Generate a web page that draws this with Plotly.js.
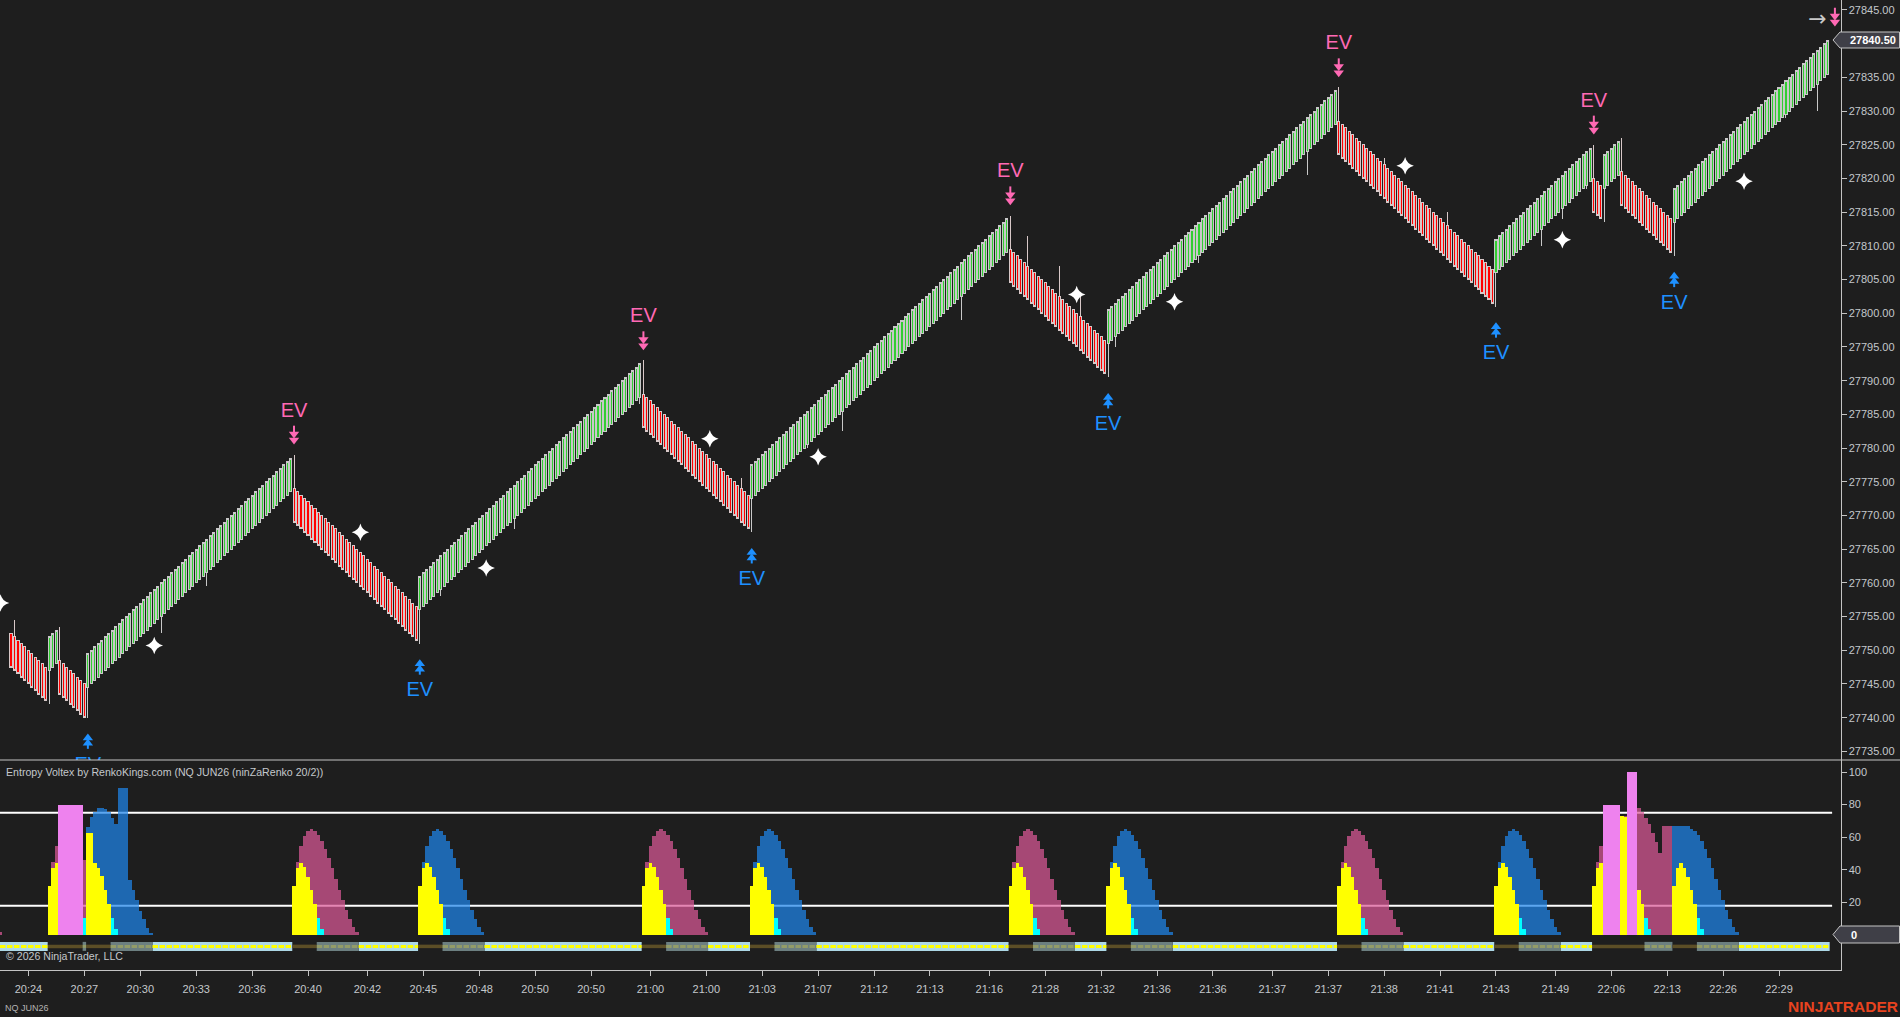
<!DOCTYPE html>
<html>
<head>
<meta charset="utf-8">
<script src="https://cdn.plot.ly/plotly-3.0.1.min.js"></script>
<style>
  html, body { margin: 0; padding: 0; background: #1e1e1e; overflow: hidden; }
  .boxlayer path { shape-rendering: crispEdges !important; }
</style>
</head>
<body>
<div id="chart"></div>
<script>
// renko bars, one value per bar, leg by leg
const closes = [
  27747.5,27747,27746.5,27746,27745.5,27745,27744.5,27744,27743.5,27743,27742.5,
  27752,27752.5,27753,
  27743.5,27743,27742.5,27742,27741.5,27741,27740.5,27740,
  27749.5,27750,27750.5,27751,27751.5,27752,27752.5,27753,27753.5,27754,27754.5,27755,27755.5,27756,27756.5,27757,27757.5,27758,27758.5,27759,27759.5,27760,27760.5,27761,27761.5,27762,27762.5,27763,27763.5,27764,27764.5,27765,27765.5,27766,27766.5,27767,27767.5,27768,27768.5,27769,27769.5,27770,27770.5,27771,27771.5,27772,27772.5,27773,27773.5,27774,27774.5,27775,27775.5,27776,27776.5,27777,27777.5,27778,27778.5,
  27769,27768.5,27768,27767.5,27767,27766.5,27766,27765.5,27765,27764.5,27764,27763.5,27763,27762.5,27762,27761.5,27761,27760.5,27760,27759.5,27759,27758.5,27758,27757.5,27757,27756.5,27756,27755.5,27755,27754.5,27754,27753.5,27753,27752.5,27752,27751.5,
  27761,27761.5,27762,27762.5,27763,27763.5,27764,27764.5,27765,27765.5,27766,27766.5,27767,27767.5,27768,27768.5,27769,27769.5,27770,27770.5,27771,27771.5,27772,27772.5,27773,27773.5,27774,27774.5,27775,27775.5,27776,27776.5,27777,27777.5,27778,27778.5,27779,27779.5,27780,27780.5,27781,27781.5,27782,27782.5,27783,27783.5,27784,27784.5,27785,27785.5,27786,27786.5,27787,27787.5,27788,27788.5,27789,27789.5,27790,27790.5,27791,27791.5,27792,27792.5,
  27783,27782.5,27782,27781.5,27781,27780.5,27780,27779.5,27779,27778.5,27778,27777.5,27777,27776.5,27776,27775.5,27775,27774.5,27774,27773.5,27773,27772.5,27772,27771.5,27771,27770.5,27770,27769.5,27769,27768.5,27768,
  27777.5,27778,27778.5,27779,27779.5,27780,27780.5,27781,27781.5,27782,27782.5,27783,27783.5,27784,27784.5,27785,27785.5,27786,27786.5,27787,27787.5,27788,27788.5,27789,27789.5,27790,27790.5,27791,27791.5,27792,27792.5,27793,27793.5,27794,27794.5,27795,27795.5,27796,27796.5,27797,27797.5,27798,27798.5,27799,27799.5,27800,27800.5,27801,27801.5,27802,27802.5,27803,27803.5,27804,27804.5,27805,27805.5,27806,27806.5,27807,27807.5,27808,27808.5,27809,27809.5,27810,27810.5,27811,27811.5,27812,27812.5,27813,27813.5,27814,
  27804.5,27804,27803.5,27803,27802.5,27802,27801.5,27801,27800.5,27800,27799.5,27799,27798.5,27798,27797.5,27797,27796.5,27796,27795.5,27795,27794.5,27794,27793.5,27793,27792.5,27792,27791.5,27791,
  27800.5,27801,27801.5,27802,27802.5,27803,27803.5,27804,27804.5,27805,27805.5,27806,27806.5,27807,27807.5,27808,27808.5,27809,27809.5,27810,27810.5,27811,27811.5,27812,27812.5,27813,27813.5,27814,27814.5,27815,27815.5,27816,27816.5,27817,27817.5,27818,27818.5,27819,27819.5,27820,27820.5,27821,27821.5,27822,27822.5,27823,27823.5,27824,27824.5,27825,27825.5,27826,27826.5,27827,27827.5,27828,27828.5,27829,27829.5,27830,27830.5,27831,27831.5,27832,27832.5,27833,
  27823.5,27823,27822.5,27822,27821.5,27821,27820.5,27820,27819.5,27819,27818.5,27818,27817.5,27817,27816.5,27816,27815.5,27815,27814.5,27814,27813.5,27813,27812.5,27812,27811.5,27811,27810.5,27810,27809.5,27809,27808.5,27808,27807.5,27807,27806.5,27806,27805.5,27805,27804.5,27804,27803.5,27803,27802.5,27802,27801.5,
  27811,27811.5,27812,27812.5,27813,27813.5,27814,27814.5,27815,27815.5,27816,27816.5,27817,27817.5,27818,27818.5,27819,27819.5,27820,27820.5,27821,27821.5,27822,27822.5,27823,27823.5,27824,27824.5,
  27815,27814.5,27814,
  27823.5,27824,27824.5,27825,27825.5,
  27816,27815.5,27815,27814.5,27814,27813.5,27813,27812.5,27812,27811.5,27811,27810.5,27810,27809.5,27809,
  27818.5,27819,27819.5,27820,27820.5,27821,27821.5,27822,27822.5,27823,27823.5,27824,27824.5,27825,27825.5,27826,27826.5,27827,27827.5,27828,27828.5,27829,27829.5,27830,27830.5,27831,27831.5,27832,27832.5,27833,27833.5,27834,27834.5,27835,27835.5,27836,27836.5,27837,27837.5,27838,27838.5,27839,27839.5,27840,27840.5
]

const opens = [
  27752.5,27752,27751.5,27751,27750.5,27750,27749.5,27749,27748.5,27748,27747.5,
  27747,27747.5,27748,
  27748.5,27748,27747.5,27747,27746.5,27746,27745.5,27745,
  27744.5,27745,27745.5,27746,27746.5,27747,27747.5,27748,27748.5,27749,27749.5,27750,27750.5,27751,27751.5,27752,27752.5,27753,27753.5,27754,27754.5,27755,27755.5,27756,27756.5,27757,27757.5,27758,27758.5,27759,27759.5,27760,27760.5,27761,27761.5,27762,27762.5,27763,27763.5,27764,27764.5,27765,27765.5,27766,27766.5,27767,27767.5,27768,27768.5,27769,27769.5,27770,27770.5,27771,27771.5,27772,27772.5,27773,27773.5,
  27774,27773.5,27773,27772.5,27772,27771.5,27771,27770.5,27770,27769.5,27769,27768.5,27768,27767.5,27767,27766.5,27766,27765.5,27765,27764.5,27764,27763.5,27763,27762.5,27762,27761.5,27761,27760.5,27760,27759.5,27759,27758.5,27758,27757.5,27757,27756.5,
  27756,27756.5,27757,27757.5,27758,27758.5,27759,27759.5,27760,27760.5,27761,27761.5,27762,27762.5,27763,27763.5,27764,27764.5,27765,27765.5,27766,27766.5,27767,27767.5,27768,27768.5,27769,27769.5,27770,27770.5,27771,27771.5,27772,27772.5,27773,27773.5,27774,27774.5,27775,27775.5,27776,27776.5,27777,27777.5,27778,27778.5,27779,27779.5,27780,27780.5,27781,27781.5,27782,27782.5,27783,27783.5,27784,27784.5,27785,27785.5,27786,27786.5,27787,27787.5,
  27788,27787.5,27787,27786.5,27786,27785.5,27785,27784.5,27784,27783.5,27783,27782.5,27782,27781.5,27781,27780.5,27780,27779.5,27779,27778.5,27778,27777.5,27777,27776.5,27776,27775.5,27775,27774.5,27774,27773.5,27773,
  27772.5,27773,27773.5,27774,27774.5,27775,27775.5,27776,27776.5,27777,27777.5,27778,27778.5,27779,27779.5,27780,27780.5,27781,27781.5,27782,27782.5,27783,27783.5,27784,27784.5,27785,27785.5,27786,27786.5,27787,27787.5,27788,27788.5,27789,27789.5,27790,27790.5,27791,27791.5,27792,27792.5,27793,27793.5,27794,27794.5,27795,27795.5,27796,27796.5,27797,27797.5,27798,27798.5,27799,27799.5,27800,27800.5,27801,27801.5,27802,27802.5,27803,27803.5,27804,27804.5,27805,27805.5,27806,27806.5,27807,27807.5,27808,27808.5,27809,
  27809.5,27809,27808.5,27808,27807.5,27807,27806.5,27806,27805.5,27805,27804.5,27804,27803.5,27803,27802.5,27802,27801.5,27801,27800.5,27800,27799.5,27799,27798.5,27798,27797.5,27797,27796.5,27796,
  27795.5,27796,27796.5,27797,27797.5,27798,27798.5,27799,27799.5,27800,27800.5,27801,27801.5,27802,27802.5,27803,27803.5,27804,27804.5,27805,27805.5,27806,27806.5,27807,27807.5,27808,27808.5,27809,27809.5,27810,27810.5,27811,27811.5,27812,27812.5,27813,27813.5,27814,27814.5,27815,27815.5,27816,27816.5,27817,27817.5,27818,27818.5,27819,27819.5,27820,27820.5,27821,27821.5,27822,27822.5,27823,27823.5,27824,27824.5,27825,27825.5,27826,27826.5,27827,27827.5,27828,
  27828.5,27828,27827.5,27827,27826.5,27826,27825.5,27825,27824.5,27824,27823.5,27823,27822.5,27822,27821.5,27821,27820.5,27820,27819.5,27819,27818.5,27818,27817.5,27817,27816.5,27816,27815.5,27815,27814.5,27814,27813.5,27813,27812.5,27812,27811.5,27811,27810.5,27810,27809.5,27809,27808.5,27808,27807.5,27807,27806.5,
  27806,27806.5,27807,27807.5,27808,27808.5,27809,27809.5,27810,27810.5,27811,27811.5,27812,27812.5,27813,27813.5,27814,27814.5,27815,27815.5,27816,27816.5,27817,27817.5,27818,27818.5,27819,27819.5,
  27820,27819.5,27819,
  27818.5,27819,27819.5,27820,27820.5,
  27821,27820.5,27820,27819.5,27819,27818.5,27818,27817.5,27817,27816.5,27816,27815.5,27815,27814.5,27814,
  27813.5,27814,27814.5,27815,27815.5,27816,27816.5,27817,27817.5,27818,27818.5,27819,27819.5,27820,27820.5,27821,27821.5,27822,27822.5,27823,27823.5,27824,27824.5,27825,27825.5,27826,27826.5,27827,27827.5,27828,27828.5,27829,27829.5,27830,27830.5,27831,27831.5,27832,27832.5,27833,27833.5,27834,27834.5,27835,27835.5
]

// bars that stick out past their body
const wickHighBars = [1, 14, 81, 181, 209, 286, 291, 300, 306, 380, 393, 411, 453, 461]
const wickHighs = [27754.5, 27753.5, 27779, 27793, 27775.5, 27814.5, 27811.5, 27807, 27802.5, 27833.5, 27823, 27815, 27825, 27826]
const wickLowBars = [11, 22, 43, 56, 117, 123, 144, 180, 212, 228, 238, 272, 314, 316, 340, 371, 425, 438, 444, 451, 456, 476, 508, 517]
const wickLows = [27742, 27740, 27752.5, 27759.5, 27751, 27758, 27768, 27786.5, 27767.5, 27780, 27782.5, 27799, 27790.5, 27795, 27807.5, 27820.5, 27801, 27810, 27814, 27818.5, 27813.5, 27808.5, 27829, 27830]

// signals
const evDownBars = [81, 181, 286, 380, 453]
const evDownPrices = [27779, 27793, 27814.5, 27833.5, 27825]
const lastArrowBars = [522]
const lastArrowPrices = [27841]
const evUpBars = [22, 117, 212, 314, 425, 476]
const evUpPrices = [27740, 27751, 27767.5, 27790.5, 27801, 27808.5]
const starBars = [-3, 41, 100, 136, 200, 231, 305, 333, 399, 444, 496]
const starPrices = [27757, 27750.7, 27767.5, 27762.2, 27781.4, 27778.7, 27802.8, 27801.7, 27821.9, 27810.9, 27819.6]

// oscillator panel, each block starts at a bar
const purpleStarts = [-3, 12, 21, 81, 181, 286, 380, 454, 461]
const purpleBlocks = [
  [1.8],
  [44.8, 54.6],
  [46],
  [30, 44.8, 54.6, 60.7, 63.8, 65, 63.8, 61.3, 57.7, 52.8, 47.2, 41.1, 34.4, 27.6, 21.5, 15.3, 9.8, 4.9, 1.8],
  [30, 44.8, 54.6, 60.7, 63.8, 65, 63.8, 61.3, 57.7, 52.8, 47.2, 41.1, 34.4, 27.6, 21.5, 15.3, 9.8, 4.9, 1.8],
  [30, 44.8, 54.6, 60.7, 63.8, 65, 63.8, 61.3, 57.7, 52.8, 47.2, 41.1, 34.4, 27.6, 21.5, 15.3, 9.8, 4.9, 1.8],
  [30, 44.8, 54.6, 60.7, 63.8, 65, 63.8, 61.3, 57.7, 52.8, 47.2, 41.1, 34.4, 27.6, 21.5, 15.3, 9.8, 4.9, 1.8],
  [44.8, 54.6],
  [73, 73, 78, 78, 78, 78, 75.5, 72, 68, 62.6, 57, 50.3, 66.9, 66.9, 66.9]
]
const blueStarts = [22, 117, 212, 314, 425, 476]
const blueBlocks = [
  [66, 72.4, 75.5, 78, 78, 77.5, 75.3, 72, 68, 90, 90, 90, 34, 27.6, 21.3, 15, 9.6, 4.5, 1.4],
  [30, 44.8, 54.6, 60.7, 63.8, 65, 63.8, 61.3, 57.7, 52.8, 47.2, 41.1, 34.4, 27.6, 21.5, 15.3, 9.8, 4.9, 1.8],
  [30, 44.8, 54.6, 60.7, 63.8, 65, 63.8, 61.3, 57.7, 52.8, 47.2, 41.1, 34.4, 27.6, 21.5, 15.3, 9.8, 4.9, 1.8],
  [30, 44.8, 54.6, 60.7, 63.8, 65, 63.8, 61.3, 57.7, 52.8, 47.2, 41.1, 34.4, 27.6, 21.5, 15.3, 9.8, 4.9, 1.8],
  [30, 44.8, 54.6, 60.7, 63.8, 65, 63.8, 61.3, 57.7, 52.8, 47.2, 41.1, 34.4, 27.6, 21.5, 15.3, 9.8, 4.9, 1.8],
  [66.9, 66.9, 66.9, 66.9, 66.9, 65, 63.8, 61.3, 57.7, 52.8, 47.2, 41.1, 34.4, 27.6, 21.5, 15.3, 9.8, 4.9, 1.8]
]
const yellowStarts = [11, 22, 81, 117, 181, 212, 286, 314, 380, 425, 453, 461, 466, 476]
const yellowBlocks = [
  [30, 41, 44],
  [62.6, 62.6, 44, 41.3, 36, 27.4, 18.8],
  [30, 41.3, 44.3, 41.7, 35.6, 27.6, 19],
  [30, 41.3, 44.3, 41.7, 35.6, 27.6, 19],
  [30, 41.3, 44.3, 41.7, 35.6, 27.6, 19],
  [30, 41.3, 44.3, 41.7, 35.6, 27.6, 19],
  [30, 41.3, 44.3, 41.7, 35.6, 27.6, 19],
  [30, 41.3, 44.3, 41.7, 35.6, 27.6, 19],
  [30, 41.3, 44.3, 41.7, 35.6, 27.6, 19],
  [30, 41.3, 44.3, 41.7, 35.6, 27.6, 19],
  [30, 41, 44],
  [73, 72.2],
  [27.6, 19],
  [30, 41, 44, 41, 35.6, 27.6, 19]
]
const cyanStarts = [21, 29, 88, 124, 188, 219, 293, 321, 387, 432, 468, 483]
const cyanBlocks = [
  [10.4],
  [10.4, 3.7], [10.4, 3.7], [10.4, 3.7], [10.4, 3.7], [10.4, 3.7],
  [10.4, 3.7], [10.4, 3.7], [10.4, 3.7], [10.4, 3.7], [10.4, 3.7], [10.4, 3.7]
]
const pinkStarts = [14, 456, 463]
const pinkBlocks = [
  [80, 80, 80, 80, 80, 80, 80],
  [80, 80, 80, 80, 80],
  [100, 100, 100]
]
const oscLevels = [75, 18]

// state strip under the oscillator, [from, to] in bars
const stripQuiet = [[-3.15, 10.5], [40.5, 80.5], [99.5, 116.5], [135.5, 180.5], [199.5, 211.5], [230.5, 285.5], [304.5, 313.5], [332.5, 379.5], [398.5, 424.5], [443.5, 452.5], [494.5, 520.5]]
const stripFading = [[20.5, 21.5], [28.5, 40.5], [87.5, 99.5], [123.5, 135.5], [187.5, 199.5], [218.5, 230.5], [292.5, 304.5], [320.5, 332.5], [386.5, 398.5], [431.5, 443.5], [467.5, 475.5], [482.5, 494.5]]
const stripActive = [[10.5, 20.5], [21.5, 28.5], [80.5, 87.5], [116.5, 123.5], [180.5, 187.5], [211.5, 218.5], [285.5, 292.5], [313.5, 320.5], [379.5, 386.5], [424.5, 431.5], [452.5, 467.5], [475.5, 482.5]]

const timeTickBars = [5, 21, 37, 53, 69, 85, 102, 118, 134, 150, 166, 183, 199, 215, 231, 247, 263, 280, 296, 312, 328, 344, 361, 377, 393, 409, 425, 442, 458, 474, 490, 506]
const timeTickLabels = ['20:24', '20:27', '20:30', '20:33', '20:36', '20:40', '20:42', '20:45', '20:48', '20:50', '20:50', '21:00', '21:00', '21:03', '21:07', '21:12', '21:13', '21:16', '21:28', '21:32', '21:36', '21:36', '21:37', '21:37', '21:38', '21:41', '21:43', '21:49', '22:06', '22:13', '22:26', '22:29']
const priceTicks = [27735, 27740, 27745, 27750, 27755, 27760, 27765, 27770, 27775, 27780, 27785, 27790, 27795, 27800, 27805, 27810, 27815, 27820, 27825, 27830, 27835, 27840, 27845]
const oscTicks = [20, 40, 60, 80, 100]

const W = 1900
const H = 1017
const BG = '#1e1e1e'
const AXIS = '#c4c4c4'
const TEXT = '#c4c8cc'
const FONT = '"Liberation Sans", Arial, sans-serif'
const PINK = '#ff69b4'
const BLUE = '#1e90ff'

const px = v => v / W
const py = v => 1 - v / H

const bars = closes.map((c, i) => i)
const highs = closes.map((c, i) => Math.max(c, opens[i]))
const lows = closes.map((c, i) => Math.min(c, opens[i]))
wickHighBars.forEach((b, i) => { highs[b] = wickHighs[i] })
wickLowBars.forEach((b, i) => { lows[b] = wickLows[i] })

function histogram (starts, blocks, color) {
  const x = []
  const y = []
  starts.forEach((s, k) => {
    blocks[k].forEach((v, j) => {
      x.push(s + j)
      y.push(v)
    })
  })
  return {
    type: 'bar',
    x,
    y,
    width: 1,
    xaxis: 'x',
    yaxis: 'y2',
    marker: { color, line: { width: 0 } },
    hoverinfo: 'skip',
  }
}

function stripLine (runs, color, width, dash) {
  const x = []
  const y = []
  runs.forEach(r => {
    x.push(r[0], r[1], null)
    y.push(-7, -7, null)
  })
  return {
    type: 'scatter',
    mode: 'lines',
    x,
    y,
    xaxis: 'x',
    yaxis: 'y2',
    line: { color, width, dash: dash || 'solid' },
    hoverinfo: 'skip',
  }
}

function priceMarks (x, y, symbol, color, size, lineWidth) {
  return {
    type: 'scatter',
    mode: 'markers',
    x,
    y,
    xaxis: 'x',
    yaxis: 'y',
    marker: { symbol, color, size, line: { width: lineWidth || 0, color } },
    hoverinfo: 'skip',
  }
}

function priceLabels (x, y, text, color, size, family) {
  return {
    type: 'scatter',
    mode: 'text',
    x,
    y,
    text,
    textposition: 'middle center',
    textfont: { family: family || FONT, size, color },
    xaxis: 'x',
    yaxis: 'y',
    hoverinfo: 'skip',
  }
}

const candles = {
  type: 'candlestick',
  x: bars,
  open: opens,
  high: highs,
  low: lows,
  close: closes,
  xaxis: 'x',
  yaxis: 'y',
  whiskerwidth: 0,
  increasing: { line: { color: '#c8c8c8', width: 1 }, fillcolor: '#32cd32' },
  decreasing: { line: { color: '#d8c8c8', width: 1 }, fillcolor: '#ff0000' },
  hoverinfo: 'skip',
}

const arrowDownBars = evDownBars.concat(lastArrowBars)
const arrowDownPrices = evDownPrices.concat(lastArrowPrices)

const data = [
  histogram(purpleStarts, purpleBlocks, 'rgba(219,89,151,0.72)'),
  histogram(blueStarts, blueBlocks, 'rgba(31,133,234,0.72)'),
  histogram(yellowStarts, yellowBlocks, '#ffff00'),
  histogram(cyanStarts, cyanBlocks, '#00ffff'),
  histogram(pinkStarts, pinkBlocks, '#ee82ee'),
  stripLine(stripQuiet, '#add8e6', 9),
  stripLine(stripFading, '#6c7f80', 9),
  stripLine(stripActive, '#5c4e26', 3.5),
  stripLine(stripQuiet, '#ffff00', 3, '5.5px,1.5px'),
  stripLine(stripFading, '#939c68', 3, '5.5px,1.5px'),
  candles,
  priceMarks(arrowDownBars, arrowDownPrices.map(p => p + 3.7), 'line-ns', PINK, 6, 2),
  priceMarks(arrowDownBars, arrowDownPrices.map(p => p + 3.1), 'triangle-down', PINK, 9),
  priceMarks(arrowDownBars, arrowDownPrices.map(p => p + 2.2), 'triangle-down', PINK, 9),
  priceMarks(evUpBars, evUpPrices.map(p => p - 4), 'line-ns', BLUE, 6, 2),
  priceMarks(evUpBars, evUpPrices.map(p => p - 3), 'triangle-up', BLUE, 9),
  priceMarks(evUpBars, evUpPrices.map(p => p - 3.8), 'triangle-up', BLUE, 9),
  priceLabels(evDownBars, evDownPrices.map(p => p + 6.4), evDownBars.map(() => 'EV'), PINK, 20),
  priceLabels(evUpBars, evUpPrices.map(p => p - 7.1), evUpBars.map(() => 'EV'), BLUE, 20),
  priceMarks(starBars, starPrices, 'star-diamond', '#ffffff', 12.5),
  priceLabels([517], [27843.4], ['→'], '#c8c8c8', 22, '"DejaVu Sans"'),
]

function valueTag (top, bottom) {
  const mid = (top + bottom) / 2
  return {
    type: 'path',
    xref: 'paper',
    yref: 'paper',
    path: `M${px(1833)},${py(mid)} L${px(1840)},${py(top)} L${px(1899.5)},${py(top)} L${px(1899.5)},${py(bottom)} L${px(1840)},${py(bottom)} Z`,
    fillcolor: '#3f3f47',
    line: { color: AXIS, width: 1 },
    layer: 'above',
  }
}

const shapes = oscLevels.map(level => ({
  type: 'line',
  xref: 'x',
  yref: 'y2',
  x0: -3.15,
  x1: 521.2,
  y0: level,
  y1: level,
  line: { color: '#ffffff', width: 2 },
  layer: 'below',
}))
shapes.push({
  type: 'line',
  xref: 'paper',
  yref: 'paper',
  x0: 0,
  x1: 1,
  y0: py(760),
  y1: py(760),
  line: { color: AXIS, width: 1 },
  layer: 'above',
})
shapes.push(valueTag(32, 48))
shapes.push(valueTag(926, 943))

function note (text, x, y, size, color, weight) {
  return {
    text,
    xref: 'paper',
    yref: 'paper',
    x: px(x),
    y: py(y),
    xanchor: 'left',
    yanchor: 'middle',
    showarrow: false,
    borderpad: 0,
    font: { family: FONT, size, color, weight: weight || 'normal' },
  }
}

const layout = {
  width: W,
  height: H,
  margin: { l: 0, r: 0, t: 0, b: 0, pad: 0 },
  paper_bgcolor: BG,
  plot_bgcolor: BG,
  showlegend: false,
  barmode: 'overlay',
  bargap: 0,
  boxgap: 0.42,
  boxgroupgap: 0,
  font: { family: FONT, size: 11, color: TEXT },
  xaxis: {
    domain: [0, 1840.5 / W],
    range: [-3.148, 523.6],
    anchor: 'y2',
    tickmode: 'array',
    tickvals: timeTickBars,
    ticktext: timeTickLabels,
    tickangle: 0,
    ticks: 'outside',
    ticklen: 5,
    tickwidth: 1,
    tickcolor: AXIS,
    ticklabelstandoff: 4,
    tickfont: { family: FONT, size: 11, color: TEXT },
    showgrid: false,
    zeroline: false,
    showline: true,
    linecolor: AXIS,
    linewidth: 1,
    rangeslider: { visible: false },
    fixedrange: true,
  },
  yaxis: {
    domain: [py(760), 1],
    range: [27733.72, 27846.48],
    side: 'right',
    anchor: 'x',
    tickmode: 'array',
    tickvals: priceTicks,
    ticktext: priceTicks.map(v => v.toFixed(2)),
    ticks: 'outside',
    ticklen: 5,
    tickwidth: 1,
    tickcolor: AXIS,
    tickfont: { family: FONT, size: 11, color: TEXT },
    showgrid: false,
    zeroline: false,
    showline: true,
    linecolor: AXIS,
    linewidth: 1,
    fixedrange: true,
  },
  yaxis2: {
    domain: [py(970), py(760)],
    range: [-21.5, 107.4],
    side: 'right',
    anchor: 'x',
    tickmode: 'array',
    tickvals: oscTicks,
    ticks: 'outside',
    ticklen: 5,
    tickwidth: 1,
    tickcolor: AXIS,
    tickfont: { family: FONT, size: 11, color: TEXT },
    showgrid: false,
    zeroline: false,
    showline: true,
    linecolor: AXIS,
    linewidth: 1,
    fixedrange: true,
  },
  shapes,
  annotations: [
    note('Entropy Voltex by RenkoKings.com (NQ JUN26 (ninZaRenko 20/2))', 5, 772, 10.6, TEXT),
    note('© 2026 NinjaTrader, LLC', 5, 956, 10.6, TEXT),
    note('NQ JUN26', 4, 1008, 9, '#b4b4b4'),
    note('NINJATRADER', 1787, 1006, 15.5, '#e8431f', 'bold'),
    note('27840.50', 1849, 40, 11, '#ffffff', 'bold'),
    note('0', 1850, 935, 11, '#ffffff', 'bold'),
  ],
}

Plotly.newPlot('chart', data, layout, { displayModeBar: false, responsive: false, staticPlot: true })
</script>
</body>
</html>
